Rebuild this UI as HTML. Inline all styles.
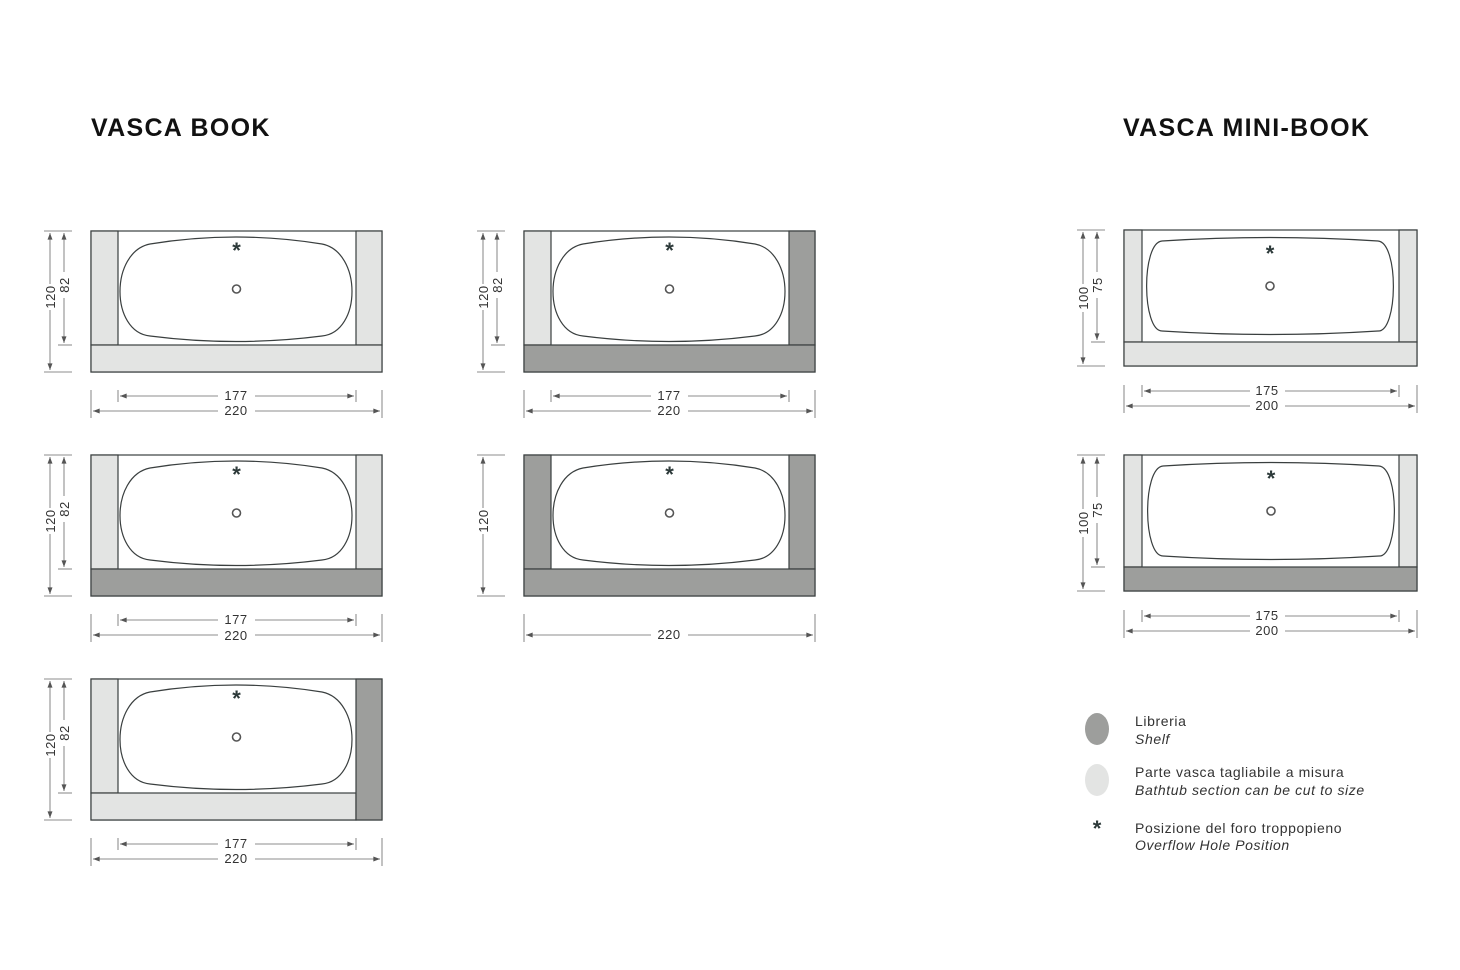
<!DOCTYPE html>
<html><head><meta charset="utf-8"><style>
html,body{margin:0;padding:0;background:#fff;}
svg{display:block;}
text{font-family:"Liberation Sans",sans-serif;}
</style></head><body>
<svg width="1460" height="970" viewBox="0 0 1460 970" xmlns="http://www.w3.org/2000/svg">
<defs>
<marker id="ar" viewBox="0 0 8 6" refX="8" refY="3" markerWidth="7" markerHeight="5" orient="auto-start-reverse" markerUnits="userSpaceOnUse"><path d="M0,0 L8,3 L0,6 Z" fill="#555"/></marker>
<path id="basin" d="M150,244 Q236,230 322,244 C362,252 362,332 322,336 Q236,347 150,336 C110,332 110,252 150,244 Z" fill="#fff" stroke="#3a3f3f" stroke-width="1.2"/>
<path id="mbasin" d="M1162,241 Q1270,234 1378,241 C1399,243 1398,332 1378,331 Q1270,338 1162,331 C1142,331 1141,243 1162,241 Z" fill="#fff" stroke="#3a3f3f" stroke-width="1.2"/>
<g id="bookdim" stroke="#666" stroke-width="0.8" fill="none">
<line x1="44" y1="231" x2="72" y2="231"/><line x1="44" y1="372" x2="72" y2="372"/>
<line x1="50" y1="233" x2="50" y2="284" marker-start="url(#ar)"/><line x1="50" y1="310" x2="50" y2="370" marker-end="url(#ar)"/>
<line x1="91" y1="390" x2="91" y2="418"/><line x1="382" y1="390" x2="382" y2="418"/>
<line x1="93" y1="411" x2="218" y2="411" marker-start="url(#ar)"/><line x1="255" y1="411" x2="380" y2="411" marker-end="url(#ar)"/>
</g>
<g id="book82" stroke="#666" stroke-width="0.8" fill="none">
<line x1="58" y1="345" x2="72" y2="345"/>
<line x1="64" y1="233" x2="64" y2="272" marker-start="url(#ar)"/><line x1="64" y1="298" x2="64" y2="343" marker-end="url(#ar)"/>
<line x1="118" y1="390" x2="118" y2="402"/><line x1="356" y1="390" x2="356" y2="402"/>
<line x1="120" y1="396" x2="218" y2="396" marker-start="url(#ar)"/><line x1="255" y1="396" x2="354" y2="396" marker-end="url(#ar)"/>
</g>
<g id="bookbasin">
<use href="#basin"/>
<text x="236.5" y="258" font-size="22" font-weight="bold" fill="#2d3a3a" text-anchor="middle">*</text>
<circle cx="236.5" cy="289" r="4" fill="none" stroke="#555" stroke-width="1.6"/>
</g>
<g id="minidim" stroke="#666" stroke-width="0.8" fill="none">
<line x1="1077" y1="230" x2="1105" y2="230"/><line x1="1077" y1="366" x2="1105" y2="366"/><line x1="1091" y1="342" x2="1105" y2="342"/>
<line x1="1083" y1="232" x2="1083" y2="284" marker-start="url(#ar)"/><line x1="1083" y1="312" x2="1083" y2="364" marker-end="url(#ar)"/>
<line x1="1097" y1="232" x2="1097" y2="272" marker-start="url(#ar)"/><line x1="1097" y1="298" x2="1097" y2="340" marker-end="url(#ar)"/>
<line x1="1124" y1="385" x2="1124" y2="413"/><line x1="1417" y1="385" x2="1417" y2="413"/>
<line x1="1142" y1="385" x2="1142" y2="397"/><line x1="1399" y1="385" x2="1399" y2="397"/>
<line x1="1144" y1="391" x2="1250" y2="391" marker-start="url(#ar)"/><line x1="1285" y1="391" x2="1397" y2="391" marker-end="url(#ar)"/>
<line x1="1126" y1="406" x2="1250" y2="406" marker-start="url(#ar)"/><line x1="1285" y1="406" x2="1415" y2="406" marker-end="url(#ar)"/>
</g>
</defs>

<text x="91" y="136" font-size="25" font-weight="bold" fill="#111" letter-spacing="1.3">VASCA BOOK</text>
<text x="1123" y="136" font-size="25" font-weight="bold" fill="#111" letter-spacing="1.3">VASCA MINI-BOOK</text>

<g stroke="#3a3f3f" stroke-width="1.2">
<rect x="91" y="231" width="291" height="141" fill="#fff"/>
<rect x="91" y="231" width="27" height="114" fill="#e3e4e3"/>
<rect x="356" y="231" width="26" height="114" fill="#e3e4e3"/>
<rect x="91" y="345" width="291" height="27" fill="#e3e4e3"/>
<rect x="524" y="231" width="291" height="141" fill="#fff"/>
<rect x="524" y="231" width="27" height="114" fill="#e3e4e3"/>
<rect x="789" y="231" width="26" height="114" fill="#9d9e9c"/>
<rect x="524" y="345" width="291" height="27" fill="#9d9e9c"/>
<rect x="91" y="455" width="291" height="141" fill="#fff"/>
<rect x="91" y="455" width="27" height="114" fill="#e3e4e3"/>
<rect x="356" y="455" width="26" height="114" fill="#e3e4e3"/>
<rect x="91" y="569" width="291" height="27" fill="#9d9e9c"/>
<rect x="524" y="455" width="291" height="141" fill="#fff"/>
<rect x="524" y="455" width="27" height="114" fill="#9d9e9c"/>
<rect x="789" y="455" width="26" height="114" fill="#9d9e9c"/>
<rect x="524" y="569" width="291" height="27" fill="#9d9e9c"/>
<rect x="91" y="679" width="291" height="141" fill="#fff"/>
<rect x="91" y="679" width="27" height="114" fill="#e3e4e3"/>
<rect x="91" y="793" width="265" height="27" fill="#e3e4e3"/>
<rect x="356" y="679" width="26" height="141" fill="#9d9e9c"/>
<rect x="1124" y="230" width="293" height="136" fill="#fff"/>
<rect x="1124" y="230" width="18" height="112" fill="#e3e4e3"/>
<rect x="1399" y="230" width="18" height="112" fill="#e3e4e3"/>
<rect x="1124" y="342" width="293" height="24" fill="#e3e4e3"/>
<rect x="1124" y="455" width="293" height="136" fill="#fff"/>
<rect x="1124" y="455" width="18" height="112" fill="#e3e4e3"/>
<rect x="1399" y="455" width="18" height="112" fill="#e3e4e3"/>
<rect x="1124" y="567" width="293" height="24" fill="#9d9e9c"/>
</g>

<use href="#bookbasin"/>
<use href="#bookbasin" transform="translate(433,0)"/>
<use href="#bookbasin" transform="translate(0,224)"/>
<use href="#bookbasin" transform="translate(433,224)"/>
<use href="#bookbasin" transform="translate(0,448)"/>

<g>
<use href="#mbasin"/>
<text x="1270" y="261" font-size="22" font-weight="bold" fill="#2d3a3a" text-anchor="middle">*</text>
<circle cx="1270" cy="286" r="4" fill="none" stroke="#555" stroke-width="1.6"/>
</g>
<g transform="translate(1,225)">
<use href="#mbasin"/>
<text x="1270" y="261" font-size="22" font-weight="bold" fill="#2d3a3a" text-anchor="middle">*</text>
<circle cx="1270" cy="286" r="4" fill="none" stroke="#555" stroke-width="1.6"/>
</g>

<use href="#bookdim"/><use href="#book82"/>
<use href="#bookdim" transform="translate(433,0)"/><use href="#book82" transform="translate(433,0)"/>
<use href="#bookdim" transform="translate(0,224)"/><use href="#book82" transform="translate(0,224)"/>
<use href="#bookdim" transform="translate(433,224)"/>
<use href="#bookdim" transform="translate(0,448)"/><use href="#book82" transform="translate(0,448)"/>
<use href="#minidim"/>
<use href="#minidim" transform="translate(0,225)"/>

<g font-size="13" fill="#333" text-anchor="middle" letter-spacing="0.5">
<text transform="translate(55,297) rotate(-90)">120</text>
<text transform="translate(69,285) rotate(-90)">82</text>
<text x="236" y="400">177</text>
<text x="236" y="415">220</text>
<text transform="translate(488,297) rotate(-90)">120</text>
<text transform="translate(502,285) rotate(-90)">82</text>
<text x="669" y="400">177</text>
<text x="669" y="415">220</text>
<text transform="translate(55,521) rotate(-90)">120</text>
<text transform="translate(69,509) rotate(-90)">82</text>
<text x="236" y="624">177</text>
<text x="236" y="640">220</text>
<text transform="translate(488,521) rotate(-90)">120</text>
<text x="669" y="639">220</text>
<text transform="translate(55,745) rotate(-90)">120</text>
<text transform="translate(69,733) rotate(-90)">82</text>
<text x="236" y="848">177</text>
<text x="236" y="863">220</text>
<text transform="translate(1088,298) rotate(-90)">100</text>
<text transform="translate(1102,285) rotate(-90)">75</text>
<text x="1267" y="395">175</text>
<text x="1267" y="410">200</text>
<text transform="translate(1088,523) rotate(-90)">100</text>
<text transform="translate(1102,510) rotate(-90)">75</text>
<text x="1267" y="620">175</text>
<text x="1267" y="635">200</text>
</g>

<ellipse cx="1097" cy="729" rx="12" ry="16" fill="#9d9e9c"/>
<ellipse cx="1097" cy="780" rx="12" ry="16" fill="#e3e4e3"/>
<text x="1097" y="836" font-size="22" font-weight="bold" fill="#2d3a3a" text-anchor="middle">*</text>
<g font-size="14" fill="#333" letter-spacing="0.6">
<text x="1135" y="726">Libreria</text>
<text x="1135" y="744" font-style="italic">Shelf</text>
<text x="1135" y="777">Parte vasca tagliabile a misura</text>
<text x="1135" y="795" font-style="italic">Bathtub section can be cut to size</text>
<text x="1135" y="833">Posizione del foro troppopieno</text>
<text x="1135" y="850" font-style="italic">Overflow Hole Position</text>
</g>
</svg>
</body></html>
